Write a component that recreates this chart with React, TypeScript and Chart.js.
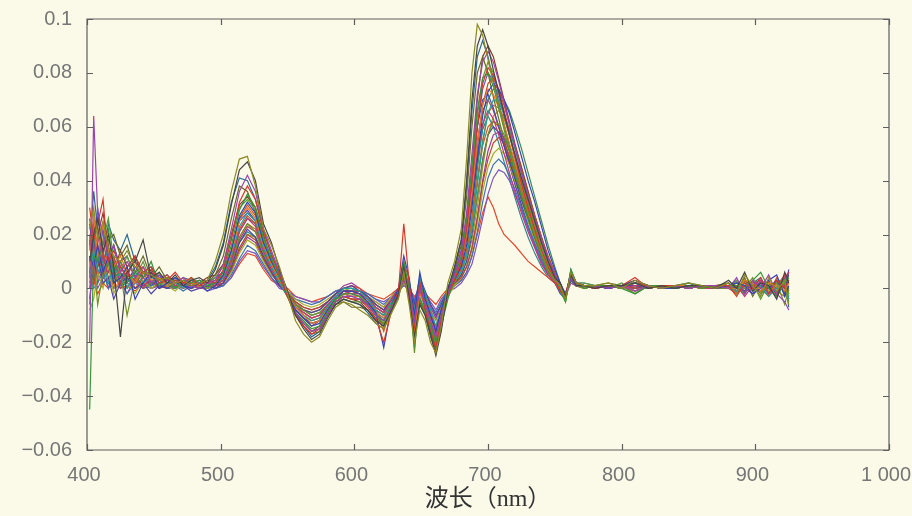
import { useEffect, useRef } from "react";
import { Chart, registerables } from "chart.js";

Chart.register(...registerables);

// Wavelength grid (nm)
const wavelength = [
  402, 405, 408, 412, 416, 420, 425, 430, 436, 442, 448, 454, 460, 466, 472, 478, 484, 490, 496,
  502, 508, 514, 520, 526, 532, 538, 544, 550, 556,
  562, 568, 574, 580, 586, 592, 598, 604, 610, 616, 622, 628, 633, 637, 641, 645, 649, 653, 657, 661, 665, 670, 675, 680,
  684, 688, 692, 696, 700, 704, 708, 712, 716, 720, 725, 730, 735, 740, 745, 750, 754, 758, 762, 766,
  772, 780, 790, 800, 810, 820, 830, 840, 850, 860, 870, 880, 886, 892, 898, 904, 910, 916, 922, 925,
];

// First-derivative spectra of the samples, in units of 1e-3
const s01 = [
  22, 30, 18, 25, 15, 12, 10, 14, 8, 6, 5, 3, 4, 2, 3, 1, 2, 3, 10,
  20, 36, 48, 49, 38, 22, 16, 8, -2, -12,
  -17, -20, -18, -12, -7, -5, -6, -8, -10, -13, -15, -9, -4, 6, -6, -20, -8, -12, -20, -24, -14, 2, 10, 22,
  48, 80, 98, 94, 85, 76, 68, 60, 52, 45, 36, 28, 20, 13, 7, 3, 1, -4, 6, 2,
  1, 1, 2, 0, 3, 1, 0, 1, 2, 1, 0, 2, -2, 5, 1, -3, 4, -1, 3, -6,
];
const s02 = [
  10, 20, 26, 14, 20, 8, -18, 6, 10, 18, 4, 6, 2, 5, 1, 3, 4, 2, 7,
  16, 31, 44, 47, 40, 24, 17, 7, -1, -10,
  -15, -19, -17, -11, -6, -4, -5, -6, -8, -12, -14, -8, -2, 8, -3, -18, -6, -10, -17, -25, -16, 0, 8, 18,
  40, 70, 90, 96, 90, 81, 73, 65, 57, 50, 41, 33, 25, 17, 10, 4, 2, -3, 5, 1,
  1, 0, 1, 1, 2, 0, 1, 0, 1, 1, 0, 3, 0, 6, -1, 2, 1, -4, 6, 2,
];
const s03 = [
  -20, 64, 28, 20, 12, 16, 6, 10, 4, 8, 2, 5, 3, 2, 4, 1, 0, 2, 3,
  9, 22, 36, 42, 36, 22, 14, 6, -2, -9,
  -13, -16, -15, -10, -5, -3, -3, -4, -6, -10, -12, -7, -3, 4, -1, -12, 0, -6, -12, -18, -10, -2, 5, 14,
  28, 50, 72, 84, 88, 84, 77, 69, 61, 53, 43, 34, 26, 18, 11, 5, 1, -3, 4, 1,
  1, 1, 0, 1, -1, 1, 0, 1, 0, 1, 1, 0, 4, -2, 3, 0, 5, -2, -5, -8,
];
const s04 = [
  30, 18, 24, 33, 10, 14, 8, 4, 12, 6, 8, 2, 3, 6, 2, 4, 1, 3, 2,
  7, 18, 32, 38, 33, 21, 13, 5, -3, -10,
  -14, -17, -15, -10, -5, -3, -4, -4, -7, -11, -20, -8, -1, 24, 2, -14, 2, -8, -16, -22, -12, -2, 3, 10,
  22, 40, 60, 76, 82, 79, 73, 66, 58, 49, 39, 30, 22, 14, 8, 3, -1, -2, 5, 2,
  1, 0, 1, 1, 4, 0, 1, 1, 0, 1, 1, 1, -3, 2, 0, 4, -2, 3, 0, 3,
];
const s05 = [
  -45, 12, 10, 16, 22, 6, 10, 2, 6, 4, 10, 1, 4, 0, 3, 2, 3, 1, 2,
  6, 16, 29, 35, 30, 19, 11, 4, -3, -9,
  -12, -15, -14, -9, -4, -2, -2, -3, -6, -10, -12, -6, -2, 10, 0, -22, -4, -8, -14, -20, -14, -4, 4, 12,
  26, 46, 66, 78, 80, 75, 67, 59, 51, 43, 34, 26, 19, 12, 7, 3, -1, -5, 7, 2,
  0, 1, 1, 0, -2, 1, 1, 0, 1, 0, 1, 1, 1, -2, 3, 6, 0, -3, 2, 4,
];
const s06 = [
  12, 8, 16, 6, 12, 2, 4, 8, -4, 2, 6, 0, 2, 4, 1, 0, 2, -1, 1,
  5, 14, 27, 32, 28, 17, 10, 4, -2, -8,
  -11, -14, -13, -8, -4, -1, -1, -2, -5, -9, -22, -6, 0, 12, 4, -10, 6, -4, -10, -16, -8, 0, 3, 8,
  16, 30, 48, 64, 73, 76, 74, 70, 65, 58, 49, 40, 32, 23, 14, 7, 2, -3, 6, 2,
  1, 1, 0, 1, 3, 1, 0, 0, 1, 1, 0, 1, 2, 1, -2, 0, 3, 5, -3, 1,
];
const s07 = [
  8, 28, 12, 24, 14, 8, 12, 6, 2, 8, 3, 4, 1, 2, 4, 2, 1, 2, 3,
  5, 13, 25, 30, 26, 16, 9, 3, -2, -7,
  -10, -13, -12, -8, -4, -2, -3, -3, -5, -9, -11, -6, -2, 8, -2, -16, -2, -6, -12, -18, -10, -2, 4, 10,
  20, 36, 54, 68, 74, 72, 67, 61, 54, 47, 38, 30, 22, 14, 8, 3, 1, -4, 6, 1,
  1, 0, 1, 1, -1, 1, 0, 1, 1, 0, 1, 0, 0, 3, 2, -1, 2, 1, -1, 2,
];
const s08 = [
  4, 14, 6, 10, 2, 8, 4, 0, 6, 2, 4, 3, 1, 2, 0, 3, 2, 1, 2,
  4, 12, 23, 28, 25, 15, 8, 2, -3, -7,
  -10, -12, -11, -7, -3, 0, 0, -1, -4, -8, -10, -5, -1, 6, 2, -8, 4, -2, -8, -14, -8, 1, 3, 6,
  12, 22, 38, 54, 65, 70, 69, 65, 59, 52, 43, 34, 25, 17, 10, 4, 0, -2, 4, 1,
  1, 1, 1, 1, 2, 0, 1, 1, 0, 1, 1, 0, -1, 2, 0, 1, -3, 0, 3, -4,
];
const s09 = [
  18, 6, 20, 8, 6, 10, 2, 6, 3, 0, 5, 2, 3, 1, 2, 0, 2, 2, 1,
  3, 10, 21, 26, 23, 14, 7, 2, -3, -7,
  -9, -11, -10, -6, -3, -1, -2, -2, -4, -7, -9, -4, 0, 4, -4, -18, 0, -6, -10, -16, -10, -1, 5, 11,
  20, 34, 50, 61, 66, 63, 57, 50, 43, 36, 28, 21, 15, 9, 5, 2, -1, -3, 5, 2,
  1, 0, 1, 0, 1, 1, 0, 1, 1, 0, 0, 1, 1, -3, 1, 3, 0, -2, 4, 6,
];
const s10 = [
  2, 10, -6, 6, 10, 2, 6, -10, 4, 0, 2, 4, 2, 0, 3, 1, 2, 0, 2,
  3, 9, 19, 24, 21, 13, 7, 3, -2, -6,
  -8, -10, -9, -6, -4, -3, -4, -4, -5, -8, -14, -6, -2, 2, 0, -24, 2, -4, -14, -20, -12, -3, 2, 6,
  12, 22, 34, 47, 57, 62, 61, 57, 51, 44, 36, 28, 20, 12, 6, 2, -1, -4, 5, 1,
  0, 1, 1, 1, -2, 1, 1, 0, 1, 1, 0, 0, 2, 0, 4, -2, 1, 2, -6, 0,
];
const s11 = [
  6, 4, 12, 2, 4, -4, 2, 4, 0, 2, -2, 1, 0, 2, 1, -1, 0, 1, 0,
  2, 8, 17, 22, 19, 12, 6, 1, -2, -6,
  -8, -9, -8, -5, -2, 0, 1, -1, -3, -6, -8, -4, 0, 5, 2, -6, 4, -1, -6, -10, -6, 0, 2, 5,
  10, 20, 34, 48, 57, 60, 58, 53, 47, 41, 33, 26, 19, 12, 7, 3, 2, -2, 3, 1,
  1, 1, 0, 1, 1, 0, 1, 1, 0, 1, 1, 1, 0, -1, 2, 1, 0, 3, -2, 7,
];
const s12 = [
  10, 2, 8, 12, 4, 6, 0, 3, 5, 1, 3, 0, 1, 3, 1, 2, 0, 1, 1,
  2, 7, 15, 20, 18, 11, 6, 1, -2, -5,
  -7, -8, -7, -5, -2, -1, -1, -1, -3, -6, -8, -4, -1, 3, -1, -12, 0, -4, -10, -14, -8, -1, 2, 4,
  8, 15, 26, 39, 48, 54, 56, 54, 49, 43, 35, 27, 19, 12, 7, 3, 0, -2, 4, 1,
  1, 0, 1, 1, 0, 1, 0, 1, 1, 0, 1, 0, -2, 1, 0, -1, 2, 0, 1, -1,
];
const s13 = [
  -8, -4, 6, 0, 8, -2, 4, 2, -2, 3, 0, 2, 1, -1, 2, 0, 1, 0, 1,
  2, 6, 13, 18, 16, 10, 5, 2, -1, -4,
  -6, -7, -6, -4, -2, -1, -2, -2, -3, -5, -7, -3, 0, 2, 0, -10, -2, -6, -12, -16, -10, -3, 1, 4,
  8, 14, 24, 36, 45, 50, 52, 50, 46, 40, 33, 25, 18, 12, 7, 3, 0, -3, 3, 1,
  0, 1, 1, 0, 1, 1, 0, 1, 0, 1, 1, 1, 1, 2, -1, 1, -1, 1, 2, -3,
];
const s14 = [
  4, 0, 2, 6, 0, 4, 2, -2, 2, 0, 1, 2, 0, 1, -1, 1, 0, 1, 0,
  1, 5, 11, 16, 14, 9, 4, 1, -1, -4,
  -5, -6, -5, -3, -1, 0, 0, -1, -2, -4, -6, -3, 0, 2, 1, -5, 2, -2, -6, -9, -5, -1, 1, 3,
  6, 12, 21, 32, 41, 46, 48, 46, 42, 37, 30, 23, 17, 11, 6, 3, 1, -2, 3, 1,
  1, 1, 0, 1, 0, 1, 1, 0, 1, 1, 0, 1, 0, 1, 1, -2, 0, 1, 0, 2,
];
const s15 = [
  2, 6, 0, 4, 2, 0, 1, 2, 0, 1, 0, 1, 0, 0, 1, 0, 1, -1, 0,
  1, 4, 10, 14, 13, 8, 4, 0, -1, -3,
  -4, -5, -5, -3, -1, -1, -1, -1, -2, -4, -5, -3, -1, 1, 0, -4, 1, -2, -5, -8, -4, -1, 0, 2,
  5, 9, 17, 26, 35, 41, 44, 43, 40, 35, 29, 22, 16, 10, 6, 2, 0, -3, 2, 1,
  1, 0, 1, 1, -1, 1, 0, 1, 1, 0, 1, 1, -1, 1, 2, 1, -2, 0, 1, 0,
];
const s16 = [
  0, 3, -2, 2, 0, 2, 0, 1, -1, 2, 0, 1, 0, 1, 0, 1, 0, 0, 1,
  1, 4, 9, 13, 12, 7, 3, 1, 0, -3,
  -4, -5, -4, -3, -1, 0, 1, 0, -2, -3, -4, -2, 0, 1, 0, -3, 0, -2, -4, -6, -3, 0, 1, 3,
  6, 12, 20, 28, 34, 30, 24, 20, 18, 16, 13, 10, 8, 6, 4, 2, 0, -2, 2, 1,
  0, 1, 0, 1, 0, 1, 0, 0, 1, 0, 1, 0, 1, -1, 0, 1, 0, -1, 1, 0,
];
const s17 = [
  14, 22, 8, 18, 26, 10, 6, 12, 4, 10, 2, 6, 2, 3, 1, 4, 2, 1, 4,
  8, 19, 30, 33, 29, 18, 11, 5, -2, -9,
  -12, -16, -15, -9, -5, -4, -5, -5, -6, -10, -13, -7, -2, 9, -2, -15, -3, -9, -15, -21, -12, -3, 4, 11,
  24, 44, 64, 78, 84, 80, 73, 65, 57, 49, 40, 31, 23, 15, 9, 4, 0, -4, 6, 2,
  2, 1, 0, 2, -1, 1, 1, 0, 2, 1, 1, 0, 3, -1, 2, -4, 2, 1, 4, -2,
];
const s18 = [
  -6, 16, 4, 14, 6, 12, 2, 8, 10, 2, 6, 3, 5, 1, 2, 3, 0, 2, 1,
  4, 11, 22, 27, 24, 15, 8, 3, -2, -8,
  -11, -14, -12, -8, -4, -2, -2, -2, -5, -8, -10, -5, -1, 7, 0, -12, 2, -5, -11, -17, -9, -1, 3, 9,
  18, 33, 52, 68, 76, 78, 74, 68, 61, 53, 44, 35, 27, 19, 12, 6, 1, -3, 5, 1,
  1, 1, 1, 0, 2, 1, 0, 1, 1, 1, 0, 1, -1, 3, 0, 2, -2, 4, 0, 3,
];
const s19 = [
  26, 12, 30, 10, 8, 16, 6, 2, 8, 4, 1, 4, 3, 2, 2, 1, 3, 1, 3,
  6, 14, 26, 29, 25, 15, 8, 2, -3, -8,
  -11, -13, -12, -8, -4, -2, -3, -3, -6, -9, -11, -6, -2, 6, -2, -14, -1, -7, -13, -19, -11, -2, 6, 14,
  26, 44, 60, 70, 72, 67, 60, 53, 46, 39, 31, 23, 16, 10, 5, 2, -2, -4, 6, 2,
  1, 0, 1, 1, 0, 1, 1, 1, 0, 1, 1, 1, 2, 0, -2, 3, 1, -2, 2, 5,
];
const s20 = [
  8, 4, 16, 4, 10, 0, 8, 4, 2, 6, 0, 2, 3, 1, 0, 2, 1, 1, 2,
  3, 9, 19, 24, 22, 13, 7, 3, -1, -6,
  -9, -11, -10, -7, -3, 0, 0, -1, -4, -7, -9, -5, -1, 5, 1, -9, 3, -3, -9, -15, -8, 0, 2, 7,
  13, 24, 40, 55, 65, 68, 67, 63, 57, 50, 41, 32, 24, 16, 9, 4, 0, -3, 4, 1,
  1, 1, 0, 1, 1, 1, 1, 0, 1, 0, 1, 0, 1, -2, 3, 1, 0, -1, -3, 1,
];
const s21 = [
  16, 8, 4, 10, 14, 4, 6, 0, 4, 1, 3, 0, 2, 2, 1, 0, 2, 0, 1,
  3, 8, 17, 21, 19, 11, 6, 1, -2, -6,
  -8, -10, -9, -6, -3, -1, -1, -1, -3, -7, -9, -4, 0, 3, -2, -14, 0, -5, -11, -17, -9, -2, 4, 10,
  19, 32, 47, 59, 64, 60, 54, 47, 41, 34, 26, 19, 13, 8, 4, 2, -1, -3, 4, 2,
  0, 1, 1, 1, 2, 0, 1, 1, 0, 1, 0, 1, 0, 2, 1, -1, -2, 2, 1, -5,
];
const s22 = [
  -4, 10, 2, 8, 0, 6, 3, -2, 4, 0, 2, 1, 1, 0, 2, 0, 1, 1, 0,
  2, 6, 14, 19, 17, 11, 5, 2, -1, -5,
  -7, -8, -7, -5, -2, 1, 2, 0, -3, -5, -7, -3, 0, 3, 1, -7, 2, -3, -7, -11, -6, -1, 1, 4,
  8, 15, 26, 40, 51, 57, 58, 56, 51, 45, 37, 29, 21, 14, 8, 4, 2, -3, 4, 1,
  1, 0, 1, 1, 0, 1, 1, 0, 1, 1, 1, 0, 0, 1, -1, 2, 1, -2, 2, -1,
];
const s23 = [
  4, 24, 14, 8, 18, 20, 12, 16, 6, 12, 4, 8, 3, 4, 2, 2, 3, 2, 5,
  12, 26, 38, 36, 28, 16, 11, 4, -3, -10,
  -14, -17, -16, -10, -6, -5, -7, -7, -8, -11, -13, -8, -3, 7, -4, -17, -5, -9, -16, -23, -13, -1, 7, 16,
  34, 60, 80, 86, 80, 71, 63, 55, 48, 41, 33, 25, 18, 12, 7, 3, 0, -5, 6, 2,
  1, 1, 2, 1, -2, 1, 0, 1, 1, 0, 1, 2, -1, 4, -3, 2, 0, 3, -2, 6,
];
const s24 = [
  20, 2, 12, 18, 8, 4, 10, 6, 0, 4, 6, 2, 1, 3, 1, 1, 2, 3, 2,
  5, 13, 26, 31, 27, 17, 9, 4, -2, -7,
  -10, -12, -11, -7, -3, -1, -1, -1, -4, -8, -16, -6, -1, 10, 3, -10, 4, -3, -9, -15, -8, -1, 3, 8,
  14, 26, 40, 53, 60, 62, 60, 55, 49, 42, 34, 27, 20, 13, 8, 3, 0, -2, 5, 1,
  0, 1, 1, 1, 3, 0, 1, 1, 0, 1, 1, 1, 1, -1, 2, 0, -3, 1, 5, -2,
];
const s25 = [
  12, 4, 20, 28, 16, 6, 14, 8, 12, 4, 7, 2, 4, 3, 1, 3, 2, 4, 5,
  9, 20, 31, 34, 30, 20, 10, 4, -2, -9,
  -13, -16, -14, -9, -5, -3, -4, -5, -8, -12, -13, -7, -2, 5, -3, -16, -4, -9, -15, -22, -13, -3, 3, 10,
  22, 44, 70, 86, 90, 86, 78, 70, 62, 54, 45, 36, 27, 19, 11, 5, 1, -4, 5, 2,
  1, 1, 0, 1, 2, 1, 0, 1, 1, 1, 0, 2, -2, 3, 1, -1, 3, -3, 2, -4,
];
const s26 = [
  0, 18, 10, 4, 12, 16, 8, 4, 6, 8, 2, 3, 4, 1, 3, 0, 2, 2, 1,
  4, 11, 21, 26, 24, 16, 8, 3, -2, -7,
  -10, -12, -11, -7, -3, -1, -2, -3, -6, -9, -12, -6, -1, 6, 1, -10, 3, -4, -10, -16, -9, -1, 2, 7,
  14, 26, 44, 60, 70, 74, 73, 70, 66, 60, 52, 43, 34, 25, 16, 8, 2, -3, 5, 1,
  1, 1, 1, 0, 2, 1, 1, 0, 1, 1, 1, 0, 1, -2, 2, 3, -1, 0, 4, -3,
];
const s27 = [
  24, 10, 14, 4, 8, 12, 4, 6, 2, 6, 1, 3, 2, 0, 2, 1, 1, 3, 2,
  4, 9, 18, 23, 21, 14, 6, 2, -2, -6,
  -9, -11, -10, -6, -3, -1, -1, -2, -5, -8, -10, -5, -1, 5, -1, -13, 1, -5, -11, -17, -9, -2, 5, 12,
  22, 38, 55, 66, 70, 66, 60, 53, 46, 39, 31, 23, 16, 10, 6, 2, 0, -3, 5, 1,
  1, 0, 1, 1, 1, 0, 1, 1, 0, 1, 0, 1, 0, 2, -1, 1, 2, -2, 1, 3,
];
const s28 = [
  6, 20, 8, 22, 10, 4, 10, 12, 4, 6, 4, 5, 1, 3, 2, 2, 1, 2, 4,
  6, 14, 25, 28, 25, 16, 8, 3, -2, -8,
  -11, -13, -12, -8, -4, -2, -3, -3, -6, -10, -12, -6, -2, 7, -1, -15, -1, -7, -13, -19, -11, -2, 4, 11,
  22, 40, 60, 74, 80, 77, 71, 64, 57, 49, 40, 31, 23, 15, 9, 4, 0, -4, 6, 2,
  1, 1, 0, 1, -1, 1, 1, 0, 1, 1, 1, 1, 0, 2, 1, 2, -2, 1, 3, -1,
];
const s29 = [
  8, 2, 10, 6, 2, 8, 1, 4, 2, 3, 1, 2, 0, 1, 1, 0, 2, 1, 1,
  2, 7, 15, 20, 19, 13, 6, 2, -2, -5,
  -8, -9, -8, -5, -2, 0, -1, -2, -4, -6, -8, -4, 0, 4, 1, -8, 2, -3, -8, -12, -7, -1, 1, 5,
  10, 18, 30, 45, 57, 64, 66, 64, 59, 53, 45, 36, 27, 19, 11, 5, 1, -3, 4, 1,
  1, 1, 0, 1, 1, 0, 1, 1, 1, 0, 1, 1, 1, 0, 2, -1, 0, 2, -1, 4,
];
const s30 = [
  16, 36, 22, 12, 24, 18, 14, 20, 10, 6, 8, 4, 5, 2, 4, 3, 2, 3, 8,
  17, 32, 41, 40, 33, 22, 12, 6, -1, -9,
  -14, -18, -16, -10, -6, -4, -5, -6, -9, -13, -15, -8, -3, 8, -4, -19, -6, -10, -18, -24, -15, -1, 8, 18,
  38, 66, 86, 92, 86, 77, 69, 61, 53, 46, 38, 29, 21, 14, 8, 4, 1, -4, 7, 2,
  2, 1, 1, 0, 2, 1, 0, 1, 2, 0, 1, 1, 3, -1, 2, 4, -2, 1, 4, -7,
];

const spectra = [
  s01, s02, s03, s04, s05, s06, s07, s08, s09, s10, s11, s12, s13, s14, s15,
  s16, s17, s18, s19, s20, s21, s22, s23, s24, s25, s26, s27, s28, s29, s30,
];
const lineColors = [
  "#8c8a22", "#454545", "#9a44b0", "#d8352c", "#34973c", "#3244b6", "#e27a24", "#23a09a",
  "#c4367c", "#6f8f2a", "#4f43a0", "#b8452e", "#a6ac2a", "#3f72b4", "#7d55c0", "#e4462a",
  "#5a9a3a", "#c04a3a", "#4a4ab0", "#b07a20", "#2a8a8a", "#9a3a9a", "#6a6a2a", "#d2552a",
  "#8a3a2a", "#3a8a5a", "#b03a6a", "#5a5ab8", "#9a9a30", "#2a6a9a",
];

// Axis ticks
const xTicks = [400, 500, 600, 700, 800, 900, 1000];
const yTicks = [-0.06, -0.04, -0.02, 0, 0.02, 0.04, 0.06, 0.08, 0.1];
const xTitle = "波长（nm）";

const PAPER = "#fbfae9";
const INK = "#5e5e5e";
const LABEL = "#767676";

function formatY(v: number): string {
  const r = Math.round(v * 100) / 100;
  if (r === 0) return "0";
  const body = String(Math.abs(r));
  return r < 0 ? "\u2212" + body : body;
}

function formatX(v: number): string {
  return v === 1000 ? "1 000" : String(v);
}

const paperPlugin = {
  id: "paper",
  beforeDraw(chart: any) {
    const { ctx, width, height } = chart;
    ctx.save();
    ctx.fillStyle = PAPER;
    ctx.fillRect(0, 0, width, height);
    ctx.restore();
  },
};

// Box frame with inward tick marks on all four sides
const framePlugin = {
  id: "frame",
  afterDatasetsDraw(chart: any) {
    const { ctx, chartArea, scales } = chart;
    const { left, right, top, bottom } = chartArea;
    const t = 6;
    ctx.save();
    ctx.strokeStyle = INK;
    ctx.lineWidth = 1.2;
    ctx.beginPath();
    ctx.rect(left, top, right - left, bottom - top);
    for (const v of xTicks) {
      const px = Math.round(scales.x.getPixelForValue(v)) + 0.5;
      ctx.moveTo(px, bottom);
      ctx.lineTo(px, bottom - t);
      ctx.moveTo(px, top);
      ctx.lineTo(px, top + t);
    }
    for (const v of yTicks) {
      const py = Math.round(scales.y.getPixelForValue(v)) + 0.5;
      ctx.moveTo(left, py);
      ctx.lineTo(left + t, py);
      ctx.moveTo(right, py);
      ctx.lineTo(right - t, py);
    }
    ctx.stroke();
    ctx.restore();
  },
};

export default function App() {
  const canvasRef = useRef<HTMLCanvasElement | null>(null);

  useEffect(() => {
    document.body.style.margin = "0";
    const canvas = canvasRef.current;
    if (!canvas) return;

    const datasets = spectra.map((values, k) => ({
      label: "S" + (k + 1),
      data: wavelength.map((x, i) => ({ x, y: values[i] / 1000 })),
      borderColor: lineColors[k % lineColors.length],
      borderWidth: 1.2,
      pointRadius: 0,
      tension: 0,
      fill: false,
    }));

    const tickFont = { family: "'Liberation Sans', Arial, sans-serif", size: 20 };

    const chart = new Chart(canvas, {
      type: "line",
      data: { datasets },
      options: {
        animation: false,
        responsive: false,
        events: [],
        layout: { padding: { left: 0, right: 23, top: 19, bottom: 0 } },
        plugins: { legend: { display: false }, tooltip: { enabled: false } },
        scales: {
          x: {
            type: "linear",
            min: 400,
            max: 1000,
            afterBuildTicks: (scale: any) => {
              scale.ticks = xTicks.map((value) => ({ value }));
            },
            afterFit: (scale: any) => {
              scale.height = 66;
              scale.paddingLeft = 0;
              scale.paddingRight = 0;
            },
            grid: { display: false, drawTicks: false },
            border: { display: false },
            ticks: {
              padding: 13,
              labelOffset: -3,
              color: LABEL,
              font: tickFont,
              maxRotation: 0,
              autoSkip: false,
              callback: (v: any) => formatX(Number(v)),
            },
            title: {
              display: true,
              text: xTitle,
              color: "#333333",
              font: { family: "'Liberation Serif', 'Noto Sans CJK SC', serif", size: 24 },
              padding: { top: 0, bottom: 2 },
            },
          },
          y: {
            type: "linear",
            min: -0.06,
            max: 0.1,
            afterBuildTicks: (scale: any) => {
              scale.ticks = yTicks.map((value) => ({ value }));
            },
            afterFit: (scale: any) => {
              scale.width = 87;
              scale.paddingTop = 0;
              scale.paddingBottom = 0;
            },
            grid: { display: false, drawTicks: false },
            border: { display: false },
            ticks: {
              padding: 15,
              color: LABEL,
              font: tickFont,
              autoSkip: false,
              callback: (v: any) => formatY(Number(v)),
            },
          },
        },
      },
      plugins: [paperPlugin, framePlugin],
    });

    return () => chart.destroy();
  }, []);

  return (
    <div style={{ width: 912, height: 516 }}>
      <canvas ref={canvasRef} width={912} height={516} style={{ display: "block" }} />
    </div>
  );
}
